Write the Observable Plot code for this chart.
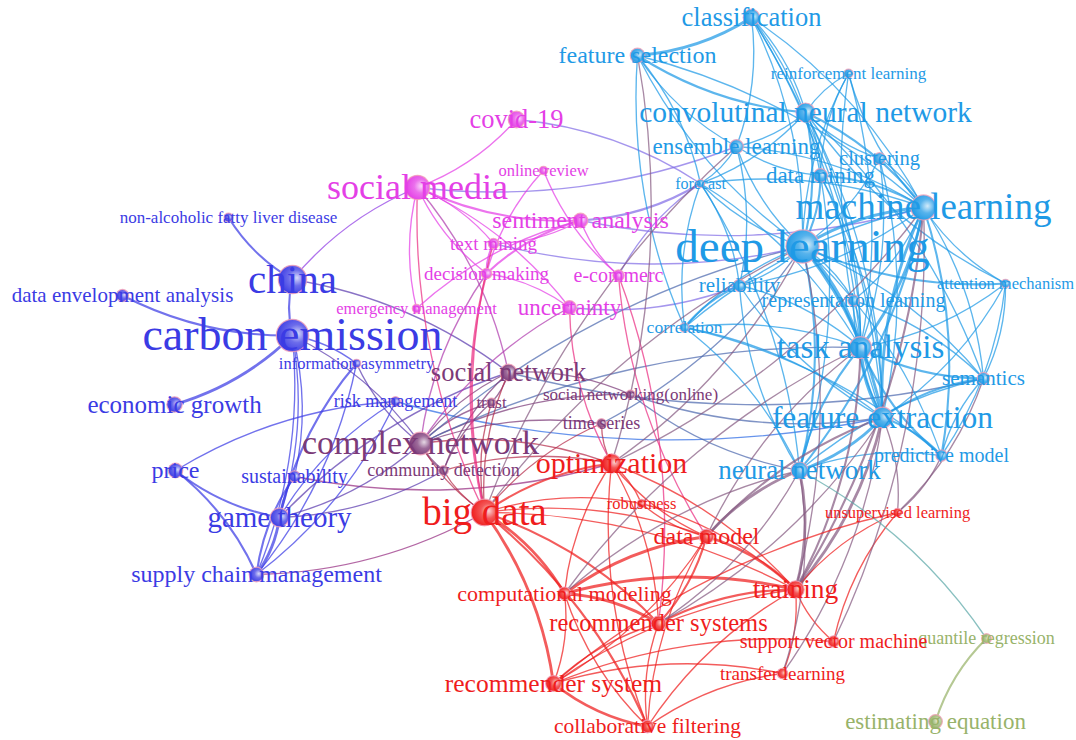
<!DOCTYPE html>
<html>
<head>
<meta charset="utf-8">
<script src="https://cdn.jsdelivr.net/npm/d3@7"></script>
<script src="https://cdn.jsdelivr.net/npm/@observablehq/plot@0.6"></script>
<style>
  html, body { margin: 0; padding: 0; background: #ffffff; }
  #chart svg { display: block; }
</style>
</head>
<body>
<div id="chart"></div>
<script>
// ---- Data (VOSviewer-style keyword co-occurrence map) ----
const clusterColors = ["#3b3be4", "#e43fe6", "#7c3a78", "#ef1d1d", "#1f9ae6", "#98b36a"];

const labels = [
  "carbon emission","china","non-alcoholic fatty liver disease","data envelopment analysis","economic growth",
  "information asymmetry","risk management","price","sustainability","game theory","supply chain management",
  "complex network","social network","trust","social networking(online)","time series","community detection",
  "social media","covid-19","online review","sentiment analysis","text mining","decision making","e-commerc",
  "uncertainty","emergency management",
  "classification","feature selection","reinforcement learning","convolutinal neural network","ensemble learning",
  "clustering","forecast","data mining","machine learning","deep learning","reliability","attention mechanism",
  "representation learning","correlation","task analysis","semantics","feature extraction","predictive model",
  "neural network",
  "big data","optimization","robustness","unsupervised learning","data model","computational modeling","training",
  "recommender systems","support vector machine","transfer learning","recommender system","collaborative filtering",
  "quantile regression","estimating equation"
];
const clusters = [
  0,0,0,0,0,0,0,0,0,0,0,
  2,2,2,2,2,2,
  1,1,1,1,1,1,1,1,1,
  4,4,4,4,4,4,4,4,4,4,4,4,4,4,4,4,4,4,4,
  3,3,3,3,3,3,3,3,3,3,3,3,
  5,5
];
const mapX = [
  292,292,228,122,174,356,395,175,294,279,256,
  420,508,491,630,601,443,
  417,516,543,580,493,486,618,569,416,
  751,637,848,805,736,879,700,820,923,802,739,1005,853,684,860,983,882,941,799,
  484,611,641,897,706,564,795,658,833,782,553,647,
  986,935
];
const mapY = [
  335,279,217,295,404,363,401,470,476,517,574,
  443,372,402,394,423,470,
  187,119,170,220,243,273,275,307,308,
  17,55,73,112,146,158,183,175,207,246,285,283,300,327,347,378,417,455,470,
  512,463,503,512,536,593,589,623,641,673,683,726,
  638,721
];
const weights = [
  46,41,17,21,25,16.5,18,24,20,29,24,
  34,26.5,17,17,18,18,
  36,26.5,16.5,24,19,19,20,23,16.5,
  26.5,24,17,29.5,23,20.5,16,23,37,47,21,16.5,20,17.5,33,21,31.5,20,27,
  39,30,16.5,16.5,24,22,27.5,24.5,20,19,25.5,21.5,
  18,23
];

const links = [
  ["china","non-alcoholic fatty liver disease",2],["china","carbon emission",2],["china","social media",1],
  ["china","social network",1],["carbon emission","data envelopment analysis",2],["carbon emission","economic growth",3],
  ["carbon emission","sustainability",1],["carbon emission","game theory",1],["carbon emission","supply chain management",1],
  ["carbon emission","information asymmetry",1],["carbon emission","complex network",1],
  ["information asymmetry","game theory",2],["information asymmetry","supply chain management",1],
  ["information asymmetry","complex network",1],["risk management","supply chain management",1],
  ["risk management","price",1],["risk management","game theory",1],["risk management","feature extraction",1],
  ["price","game theory",2],["price","supply chain management",2],["sustainability","game theory",1],
  ["sustainability","supply chain management",2],["sustainability","optimization",1],
  ["game theory","supply chain management",3],["game theory","complex network",1],["game theory","community detection",1],
  ["game theory","social network",1],["supply chain management","big data",1],
  ["complex network","social network",1],["complex network","community detection",2],["complex network","trust",1],
  ["complex network","time series",1],["complex network","big data",1],["complex network","optimization",1],
  ["complex network","social networking(online)",1],["complex network","task analysis",1],["complex network","deep learning",1],
  ["social network","trust",1],["social network","community detection",1],["social network","big data",1],
  ["social network","social networking(online)",1],["social network","semantics",1],["social network","social media",1],
  ["trust","big data",1],["trust","community detection",1],["time series","deep learning",1],["time series","optimization",1],
  ["time series","big data",1],["community detection","big data",1],["community detection","optimization",1],
  ["social networking(online)","feature extraction",1],["social networking(online)","neural network",1],
  ["social media","covid-19",1],["social media","sentiment analysis",2],["social media","text mining",1],
  ["social media","decision making",1],["social media","emergency management",1],["social media","uncertainty",1],
  ["social media","big data",1],["social media","ensemble learning",1],["covid-19","forecast",1],
  ["online review","decision making",1],["online review","e-commerc",1],["sentiment analysis","text mining",1],
  ["sentiment analysis","decision making",2],["sentiment analysis","e-commerc",1],["sentiment analysis","forecast",2],
  ["sentiment analysis","machine learning",1],["sentiment analysis","emergency management",1],
  ["text mining","decision making",2],["text mining","deep learning",1],["text mining","big data",1],
  ["decision making","uncertainty",1],["decision making","big data",2],["decision making","complex network",1],
  ["e-commerc","forecast",1],["e-commerc","data model",1],["e-commerc","recommender systems",1],
  ["uncertainty","reliability",1],["uncertainty","complex network",1],["uncertainty","optimization",1],
  ["classification","feature selection",3],["classification","convolutinal neural network",1],
  ["classification","ensemble learning",1],["classification","machine learning",1],["classification","deep learning",1],
  ["classification","data mining",1],["classification","task analysis",1],["classification","feature extraction",1],
  ["feature selection","convolutinal neural network",2],["feature selection","machine learning",1],
  ["feature selection","ensemble learning",1],["feature selection","forecast",1],["feature selection","deep learning",1],
  ["feature selection","correlation",1],["feature selection","optimization",1],
  ["reinforcement learning","convolutinal neural network",1],["reinforcement learning","deep learning",1],
  ["reinforcement learning","machine learning",1],["reinforcement learning","data mining",1],
  ["reinforcement learning","task analysis",1],["reinforcement learning","feature extraction",1],
  ["convolutinal neural network","machine learning",2],["convolutinal neural network","deep learning",2],
  ["convolutinal neural network","ensemble learning",1],["convolutinal neural network","data mining",1],
  ["convolutinal neural network","task analysis",1],["convolutinal neural network","feature extraction",1],
  ["convolutinal neural network","clustering",1],["convolutinal neural network","forecast",1],
  ["convolutinal neural network","semantics",1],["convolutinal neural network","attention mechanism",1],
  ["ensemble learning","machine learning",1],["ensemble learning","deep learning",1],["ensemble learning","forecast",1],
  ["ensemble learning","data mining",1],["ensemble learning","reliability",1],["ensemble learning","big data",1],
  ["clustering","machine learning",1],["clustering","deep learning",1],["clustering","task analysis",1],
  ["clustering","feature extraction",1],["forecast","deep learning",1],["forecast","machine learning",1],
  ["forecast","reliability",1],["forecast","correlation",1],["forecast","task analysis",1],["forecast","neural network",1],
  ["data mining","machine learning",2],["data mining","deep learning",2],["data mining","task analysis",1],
  ["data mining","feature extraction",1],["data mining","neural network",1],
  ["machine learning","deep learning",3],["machine learning","task analysis",3],["machine learning","feature extraction",3],
  ["machine learning","attention mechanism",1],["machine learning","semantics",1],["machine learning","predictive model",2],
  ["machine learning","neural network",2],["machine learning","representation learning",1],
  ["machine learning","reliability",1],["machine learning","correlation",1],
  ["deep learning","task analysis",4],["deep learning","feature extraction",3],["deep learning","neural network",2],
  ["deep learning","attention mechanism",2],["deep learning","representation learning",1],["deep learning","semantics",1],
  ["deep learning","predictive model",1],["deep learning","reliability",1],["deep learning","correlation",1],
  ["reliability","correlation",2],["reliability","task analysis",1],["reliability","feature extraction",1],
  ["reliability","neural network",1],["attention mechanism","task analysis",1],["attention mechanism","feature extraction",1],
  ["attention mechanism","semantics",1],["attention mechanism","predictive model",1],
  ["representation learning","task analysis",1],["representation learning","feature extraction",1],
  ["representation learning","semantics",1],["correlation","task analysis",1],["correlation","feature extraction",1],
  ["correlation","neural network",1],["correlation","predictive model",1],
  ["task analysis","feature extraction",4],["task analysis","semantics",2],["task analysis","predictive model",2],
  ["task analysis","neural network",2],["semantics","feature extraction",2],["semantics","predictive model",1],
  ["semantics","neural network",1],["feature extraction","predictive model",2],["feature extraction","neural network",3],
  ["predictive model","neural network",1],
  ["big data","optimization",2],["big data","computational modeling",3],["big data","recommender system",3],
  ["big data","recommender systems",2],["big data","collaborative filtering",2],["big data","data model",1],
  ["big data","training",1],["big data","robustness",1],["big data","deep learning",1],
  ["optimization","data model",1],["optimization","robustness",1],["optimization","training",1],
  ["optimization","computational modeling",1],["optimization","recommender systems",1],
  ["optimization","collaborative filtering",1],["optimization","deep learning",1],["optimization","machine learning",1],
  ["data model","computational modeling",3],["data model","training",3],["data model","recommender systems",2],
  ["data model","recommender system",1],["data model","neural network",3],["data model","feature extraction",2],
  ["data model","task analysis",1],["data model","collaborative filtering",1],["data model","robustness",1],
  ["training","computational modeling",3],["training","recommender systems",2],["training","recommender system",1],
  ["training","collaborative filtering",1],["training","support vector machine",1],["training","transfer learning",1],
  ["training","neural network",3],["training","feature extraction",3],["training","task analysis",2],
  ["training","deep learning",1],["training","machine learning",2],["training","unsupervised learning",1],
  ["computational modeling","recommender systems",3],["computational modeling","recommender system",1],
  ["computational modeling","collaborative filtering",1],["computational modeling","task analysis",1],
  ["computational modeling","neural network",1],["recommender systems","collaborative filtering",1],
  ["recommender systems","recommender system",1],["recommender systems","neural network",1],
  ["recommender systems","feature extraction",1],["recommender system","collaborative filtering",3],
  ["recommender system","transfer learning",1],["recommender system","support vector machine",1],
  ["collaborative filtering","transfer learning",1],["unsupervised learning","feature extraction",1],
  ["unsupervised learning","predictive model",1],["unsupervised learning","recommender system",1],
  ["unsupervised learning","semantics",1],["support vector machine","unsupervised learning",1],
  ["support vector machine","machine learning",1],["transfer learning","neural network",1],
  ["transfer learning","feature extraction",1],["robustness","training",1],
  ["quantile regression","estimating equation",2],["quantile regression","neural network",1]
];

// ---- Build tables ----
const nodes = labels.map((label, i) => ({
  label, cluster: clusters[i], x: mapX[i], y: mapY[i], weight: weights[i]
}));
const byLabel = new Map(nodes.map(d => [d.label, d]));
const edges = links.map(([a, b, s]) => {
  // items are ordered alphabetically, which fixes the side each curved link bends to
  const [p, q] = a < b ? [a, b] : [b, a];
  const A = byLabel.get(p), B = byLabel.get(q);
  return {
    x1: A.x, y1: A.y, x2: B.x, y2: B.y, strength: s,
    color: d3.interpolateRgb(clusterColors[A.cluster], clusterColors[B.cluster])(0.5)
  };
});
const nodesSorted = nodes.slice().sort((a, b) => a.weight - b.weight);

const chart = Plot.plot({
  width: 1076,
  height: 740,
  margin: 0,
  style: { background: "#ffffff", overflow: "visible" },
  x: { domain: [0, 1076], range: [0, 1076], axis: null },
  y: { domain: [0, 740], range: [0, 740], axis: null },
  r: { type: "linear", domain: [6, 47], range: [0, 16.6] },
  color: { type: "identity" },
  marks: [
    Plot.arrow(edges, {
      x1: "x1", y1: "y1", x2: "x2", y2: "y2",
      stroke: "color",
      strokeWidth: d => 0.6 + d.strength * 0.75,
      strokeOpacity: 0.72,
      bend: 14,
      headLength: 0
    }),
    Plot.dot(nodesSorted, {
      x: "x", y: "y", r: "weight",
      fill: d => `url(#node-grad-${d.cluster})`,
      stroke: "#f3a0b8",
      strokeWidth: 1.2,
      strokeOpacity: 0.8
    }),
    Plot.text(nodesSorted, {
      x: "x", y: "y", text: "label",
      fill: d => clusterColors[d.cluster],
      fontSize: "weight",
      fontFamily: "'Liberation Serif', 'Times New Roman', serif",
      textAnchor: "middle",
      lineAnchor: "middle"
    })
  ]
});

// radial gradients to give the nodes their sphere look
const defs = d3.select(chart).insert("defs", ":first-child");
clusterColors.forEach((c, i) => {
  const g = defs.append("radialGradient")
    .attr("id", `node-grad-${i}`)
    .attr("cx", "62%").attr("cy", "45%").attr("r", "62%")
    .attr("fx", "66%").attr("fy", "44%");
  g.append("stop").attr("offset", "0%").attr("stop-color", d3.interpolateRgb(c, "#ffffff")(0.8));
  g.append("stop").attr("offset", "45%").attr("stop-color", d3.interpolateRgb(c, "#ffffff")(0.25));
  g.append("stop").attr("offset", "100%").attr("stop-color", c);
});

document.getElementById("chart").appendChild(chart);
</script>
</body>
</html>
